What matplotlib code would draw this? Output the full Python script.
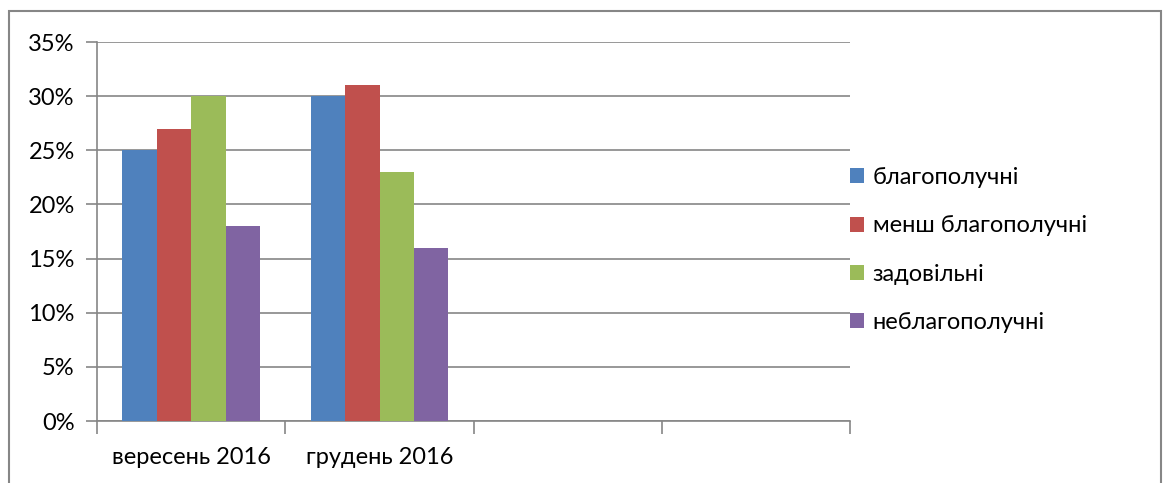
import matplotlib.pyplot as plt
import numpy as np
from matplotlib.patches import Rectangle
from matplotlib.ticker import PercentFormatter

# дані з графіка
categories = ["вересень 2016", "грудень 2016", "", ""]
series_names = ["благополучні", "менш благополучні", "задовільні", "неблагополучні"]
values = [
    [25, 30],   # благополучні
    [27, 31],   # менш благополучні
    [30, 23],   # задовільні
    [18, 16],   # неблагополучні
]
colors = ["#4f81bd", "#c0504d", "#9bbb59", "#8064a2"]

plt.rcParams["font.family"] = ["Lato", "DejaVu Sans"]

fig = plt.figure(figsize=(11.68, 4.83), dpi=100)
ax = fig.add_axes([97 / 1168, 1 - 421 / 483, 753 / 1168, 379 / 483])

# рамка навколо рисунка (низ виходить за межі картинки)
fig.patches.append(Rectangle((9 / 1168, -10 / 483), 1152 / 1168, 482 / 483,
                             transform=fig.transFigure, fill=False,
                             edgecolor="#868686", linewidth=1.5))

bar_w = 0.183
start = 0.135
x = np.arange(len(values[0]))
for i, (name, vals) in enumerate(zip(series_names, values)):
    ax.bar(x + start + i * bar_w, vals, width=bar_w, align="edge",
           color=colors[i], label=name, zorder=3)

ax.set_xlim(0, len(categories))
ax.set_ylim(0, 35)
ax.set_yticks(np.arange(0, 36, 5))
ax.yaxis.set_major_formatter(PercentFormatter(decimals=0))
ax.grid(axis="y", color="#868686", linewidth=1.2, zorder=0)

# підписи категорій по центру, риски на межах
ax.set_xticks(np.arange(len(categories) + 1))
ax.set_xticklabels([])
ax.set_xticks(np.arange(len(categories)) + 0.5, minor=True)
ax.set_xticklabels(categories, minor=True)
ax.tick_params(axis="x", which="minor", length=0, pad=19, labelsize=17)
ax.tick_params(axis="x", which="major", length=9, width=1.2, color="#868686")
ax.tick_params(axis="y", length=8, width=1.2, color="#868686", labelsize=17, pad=8)

for s in ["top", "right"]:
    ax.spines[s].set_visible(False)
for s in ["left", "bottom"]:
    ax.spines[s].set_color("#868686")
    ax.spines[s].set_linewidth(1.2)

fig.legend(loc="center left", bbox_to_anchor=(829 / 1168, 1 - 250 / 483),
           frameon=False, fontsize=17, handlelength=0.6, handleheight=0.6,
           handletextpad=0.35, labelspacing=1.15)

fig.savefig("out.png", dpi=100)
